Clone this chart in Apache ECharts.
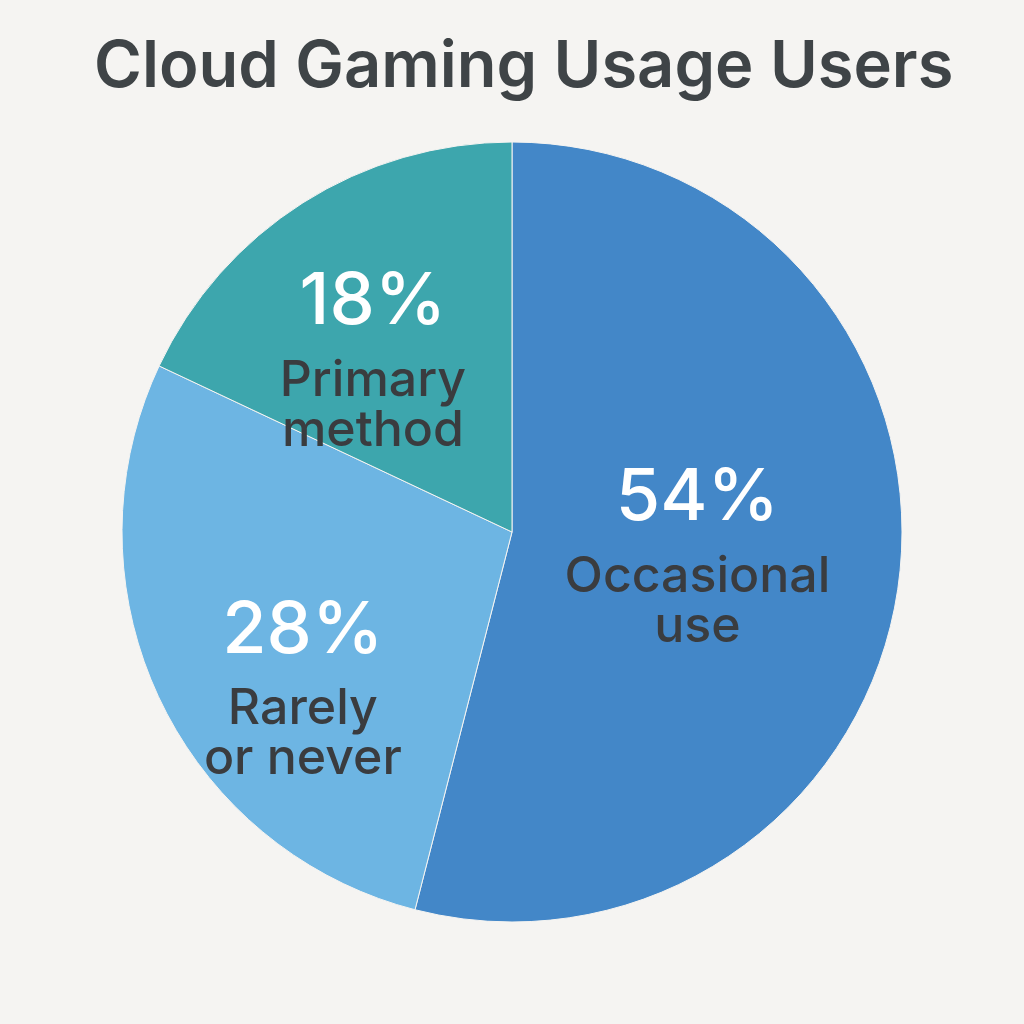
<!DOCTYPE html>
<html>
<head>
<meta charset="utf-8">
<script src="https://cdn.jsdelivr.net/npm/echarts@6/dist/echarts.min.js"></script>
<style>
  html, body { margin: 0; padding: 0; background: #f5f4f2; }
  #main { width: 1024px; height: 1024px; }
</style>
</head>
<body>
<div id="main"></div>
<script>
var categories = ['Occasional\nuse', 'Rarely\nor never', 'Primary\nmethod'];
var shares = [54, 28, 18];
var colors = ['#4387c8', '#6db5e3', '#3da6ad'];
// nudges so the labels sit where the original put them
var labelOffsets = [[-11, -8], [-30, 65], [-33, -12]];

function buildData() {
    var data = [];
    for (var i = 0; i < categories.length; i++) {
        data.push({
            name: categories[i],
            value: shares[i],
            itemStyle: { color: colors[i] },
            label: { offset: labelOffsets[i] }
        });
    }
    return data;
}

var chart = echarts.init(document.getElementById('main'));
var option = {
    backgroundColor: '#f5f4f2',
    title: {
        text: 'Cloud Gaming Usage Users',
        left: 89,
        top: 30,
        textStyle: {
            fontFamily: 'Inter',
            fontSize: 65,
            fontWeight: 600,
            color: '#3f4447'
        }
    },
    series: [
        {
            type: 'pie',
            center: [512, 532],
            radius: [0, 390],
            startAngle: 90,
            clockwise: true,
            animation: false,
            silent: true,
            itemStyle: { borderColor: '#f5f4f2', borderWidth: 1 },
            label: {
                position: 'inside',
                formatter: function (p) {
                    return '{pct|' + p.value + '%}\n{name|' + p.name.replace('\n', '}\n{name|') + '}';
                },
                rich: {
                    pct: { fontFamily: 'Inter', fontSize: 72, fontWeight: 500, color: '#ffffff', lineHeight: 106 },
                    name: { fontFamily: 'Inter', fontSize: 50, fontWeight: 500, color: '#3a3c3f', lineHeight: 50 }
                }
            },
            labelLine: { show: false },
            data: buildData()
        }
    ]
};
chart.setOption(option);
</script>
</body>
</html>
